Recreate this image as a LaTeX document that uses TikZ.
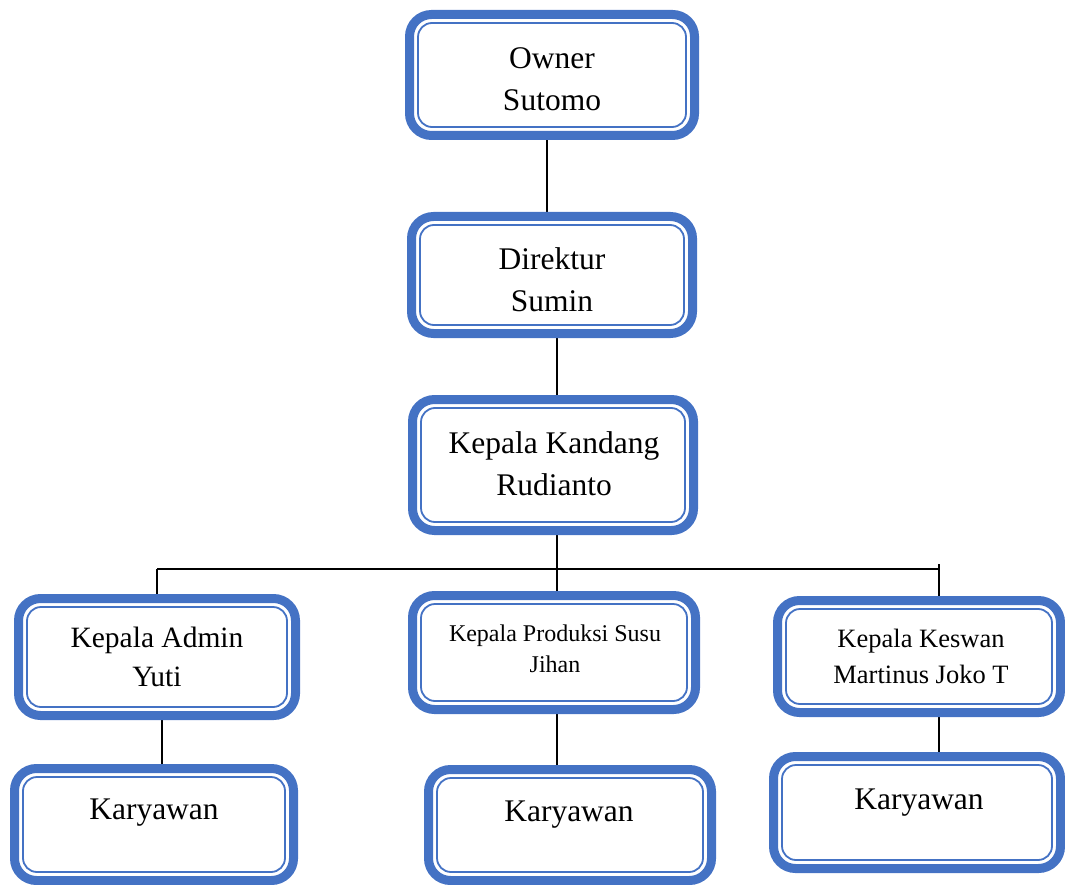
\documentclass[tikz,border=0pt]{standalone}
\usepackage{fontspec}
\setmainfont{Liberation Serif}
\usetikzlibrary{calc}
\pgfdeclarelayer{background}
\pgfsetlayers{background,main}
\definecolor{boxblue}{HTML}{4472C4}
\tikzset{
  obox/.style={draw=boxblue, line width=9pt, rounded corners=22pt, inner sep=0pt},
  innerline/.style={draw=boxblue, line width=1.8pt, rounded corners=14pt},
  conn/.style={draw=black, line width=1.8pt},
  lbl/.style={align=center, inner sep=0pt, font=\fontsize{31.5}{42}\selectfont},
}
\newcommand\obox[5]{%
  \node[obox, minimum width={#4-#2-9}, minimum height={#5-#3-9}] (#1) at ({(#2+#4)/2},{(#3+#5)/2}) {};
  \draw[innerline] ({#2+13},{#3+13}) rectangle ({#4-13},{#5-13});
}
\begin{document}
\begin{tikzpicture}[x=1pt,y=-1pt]
\useasboundingbox (0,0) rectangle (1065,885);
\obox{owner}{405}{10}{699}{140}
\obox{dir}{407}{212}{697}{338}
\obox{kk}{408}{395}{698}{535}
\obox{adm}{14}{594}{300}{720}
\obox{prod}{408}{591}{700}{714}
\obox{kes}{773}{596}{1065}{717}
\obox{k1}{10}{764}{298}{885}
\obox{k2}{424}{765}{716}{885}
\obox{k3}{769}{752}{1065}{873}

\node[lbl] (t-owner) at (552,79) {Owner\\Sutomo};
\node[lbl] (t-dir) at (552,280) {Direktur\\Sumin};
\node[lbl] (t-kk) at (554,464) {Kepala Kandang\\Rudianto};
\node[lbl, font=\fontsize{29.5}{39}\selectfont] (t-adm) at (157,657) {Kepala Admin\\Yuti};
\node[lbl, font=\fontsize{24}{31}\selectfont] (t-prod) at (555,649) {Kepala Produksi Susu\\Jihan};
\node[lbl, font=\fontsize{26.5}{36}\selectfont] (t-kes) at (921,656) {Kepala Keswan\\Martinus Joko T};
\node[lbl] (t-k1) at (154,813) {Karyawan};
\node[lbl] (t-k2) at (569,815) {Karyawan};
\node[lbl] (t-k3) at (919,803) {Karyawan};

\coordinate (bus) at (557,569);
\coordinate (busL) at (157,569);
\coordinate (busR) at (939,569);
\coordinate (busRtop) at (939,564);
\begin{pgfonlayer}{background}
\draw[conn] (owner.south -| 547,0) -- (dir.north -| 547,0);
\draw[conn] (dir.south -| 557,0) -- (kk.north -| 557,0);
\draw[conn] (kk.south -| bus) -- (bus);
\draw[conn] (busL) -- (busR);
\draw[conn] (busL) -- (adm.north -| busL);
\draw[conn] (bus) -- (prod.north -| bus);
\draw[conn] (busRtop) -- (kes.north -| busR);
\draw[conn] (adm.south -| 162,0) -- (k1.north -| 162,0);
\draw[conn] (prod.south -| 557,0) -- (k2.north -| 557,0);
\draw[conn] (kes.south -| 939,0) -- (k3.north -| 939,0);
\end{pgfonlayer}
\end{tikzpicture}
\end{document}
